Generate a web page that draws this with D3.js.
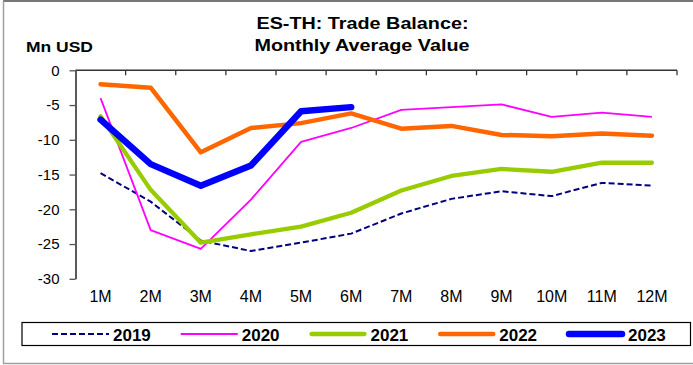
<!DOCTYPE html>
<html>
<head>
<meta charset="utf-8">
<script src="https://cdn.jsdelivr.net/npm/d3@7"></script>
<style>
  html, body { margin: 0; padding: 0; background: #fff; }
  svg { display: block; font-family: Arial, "Liberation Sans", sans-serif; }
</style>
</head>
<body>
<svg id="chart" width="693" height="365"></svg>
<script>
// Categories and tick labels
const months = ["1M", "2M", "3M", "4M", "5M", "6M", "7M", "8M", "9M", "10M", "11M", "12M"];
const yTicks = [0, -5, -10, -15, -20, -25, -30];
const years = ["2019", "2020", "2021", "2022", "2023"];

// Monthly average trade balance, Mn USD
const v2019 = [-14.8, -18.9, -24.5, -26.0, -24.8, -23.5, -20.6, -18.5, -17.4, -18.1, -16.2, -16.6];
const v2020 = [-4.0, -23.0, -25.7, -18.6, -10.3, -8.3, -5.7, -5.3, -4.9, -6.7, -6.1, -6.7];
const v2021 = [-6.6, -17.2, -24.8, -23.6, -22.5, -20.5, -17.3, -15.2, -14.2, -14.6, -13.3, -13.3];
const v2022 = [-2.0, -2.5, -11.8, -8.3, -7.6, -6.2, -8.4, -8.0, -9.3, -9.5, -9.1, -9.4];
const v2023 = [-7.1, -13.5, -16.6, -13.7, -5.9, -5.3];

const seriesValues = [v2019, v2020, v2021, v2022, v2023];
const colors = ["#000080", "#ff00ff", "#99cc00", "#ff6600", "#0000ff"];
const widths = [2, 1.8, 4.3, 4.5, 6.5];
const dashes = ["6,3", null, null, null, null];

const svg = d3.select("#chart");

// Outer frame
svg.append("line").attr("x1", 3).attr("x2", 693).attr("y1", 1).attr("y2", 1)
  .attr("stroke", "#4a4a4a").attr("stroke-width", 1.5);
svg.append("line").attr("x1", 3.5).attr("x2", 3.5).attr("y1", 1).attr("y2", 363.5)
  .attr("stroke", "#a0a0a0").attr("stroke-width", 1.5);
svg.append("line").attr("x1", 3).attr("x2", 693).attr("y1", 363.5).attr("y2", 363.5)
  .attr("stroke", "#a0a0a0").attr("stroke-width", 1.5);

// Scales
const x = d3.scaleBand().domain(months).range([75.5, 677]).paddingInner(0).paddingOuter(0);
const y = d3.scaleLinear().domain([-30, 0]).range([278.8, 70.3]);
const cx = m => x(m) + x.bandwidth() / 2;

// Title
const title = svg.append("g").attr("font-weight", "bold").attr("font-size", 17).attr("fill", "#000");
title.append("text").attr("x", 362.5).attr("y", 29).attr("text-anchor", "middle")
  .attr("textLength", 212).attr("lengthAdjust", "spacingAndGlyphs")
  .text("ES-TH: Trade Balance:");
title.append("text").attr("x", 362).attr("y", 51).attr("text-anchor", "middle")
  .attr("textLength", 215).attr("lengthAdjust", "spacingAndGlyphs")
  .text("Monthly Average Value");

// Unit label
svg.append("text").attr("x", 26).attr("y", 52).attr("font-weight", "bold").attr("font-size", 15)
  .attr("textLength", 67).attr("lengthAdjust", "spacingAndGlyphs")
  .text("Mn USD");

// Y axis
const yAxis = svg.append("g").attr("transform", `translate(${x.range()[0]},0)`)
  .call(d3.axisLeft(y).tickValues(yTicks).tickSize(6).tickPadding(10).tickSizeOuter(0)
    .tickFormat(d3.format("d")));
yAxis.select(".domain").attr("stroke", "#000").attr("stroke-width", 1.3);
yAxis.selectAll(".tick line").attr("stroke", "#555").attr("stroke-width", 1.3);
yAxis.selectAll(".tick text").attr("font-size", 15).attr("fill", "#000")
  .attr("font-family", "Arial, 'Liberation Sans', sans-serif")
  .text(d => d === 0 ? "0" : String(d).replace("\u2212", "-"));

// Horizontal axis at zero with boundary ticks between months
const zeroAxis = svg.append("g");
zeroAxis.append("line")
  .attr("x1", x.range()[0]).attr("x2", x.range()[1])
  .attr("y1", y(0)).attr("y2", y(0))
  .attr("stroke", "#333").attr("stroke-width", 1.5);
const boundaries = months.map(m => x(m)).concat([x.range()[1]]);
zeroAxis.selectAll("line.bt").data(boundaries.slice(1)).join("line").attr("class", "bt")
  .attr("x1", d => d).attr("x2", d => d)
  .attr("y1", y(0)).attr("y2", y(0) + 5)
  .attr("stroke", "#333").attr("stroke-width", 1.3);

// Month labels below the plot
const xAxis = svg.append("g").attr("transform", `translate(0,${y(-30)})`)
  .call(d3.axisBottom(x).tickSize(0).tickPadding(12));
xAxis.select(".domain").remove();
xAxis.selectAll(".tick text").attr("font-size", 16).attr("fill", "#000")
  .attr("font-family", "Arial, 'Liberation Sans', sans-serif");

// Series lines
const line = d3.line()
  .x((d, i) => cx(months[i]))
  .y(d => y(d));

const linesG = svg.append("g").attr("fill", "none");
seriesValues.forEach((vals, k) => {
  linesG.append("path")
    .datum(vals)
    .attr("d", line)
    .attr("stroke", colors[k])
    .attr("stroke-width", widths[k])
    .attr("stroke-linejoin", "round")
    .attr("stroke-linecap", k >= 2 ? "round" : "butt")
    .attr("stroke-dasharray", dashes[k]);
});

// Legend
const legend = svg.append("g");
legend.append("rect").attr("x", 22).attr("y", 322.5).attr("width", 668.5).attr("height", 23)
  .attr("fill", "#fff").attr("stroke", "#000").attr("stroke-width", 1.2);
const legendX = d3.scaleLinear().domain([0, years.length - 1]).range([52, 567]);
years.forEach((yr, k) => {
  const x0 = legendX(k);
  legend.append("line")
    .attr("x1", x0 + (k >= 2 ? 2 : 0)).attr("x2", x0 + 57 - (k >= 2 ? 2 : 0))
    .attr("y1", 334).attr("y2", 334)
    .attr("stroke", colors[k])
    .attr("stroke-width", widths[k])
    .attr("stroke-linecap", k >= 2 ? "round" : "butt")
    .attr("stroke-dasharray", dashes[k]);
  legend.append("text")
    .attr("x", x0 + 61).attr("y", 340.5)
    .attr("font-size", 17).attr("font-weight", "bold").attr("fill", "#000")
    .text(yr);
});
</script>
</body>
</html>
